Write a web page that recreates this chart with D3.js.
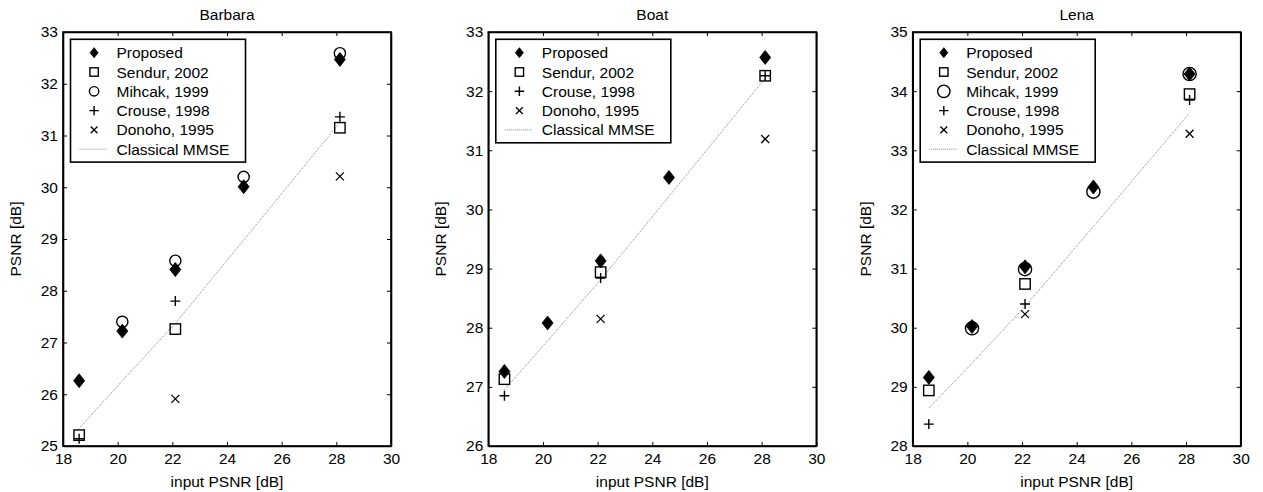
<!DOCTYPE html>
<html>
<head>
<meta charset="utf-8">
<script src="https://cdn.jsdelivr.net/npm/d3@7"></script>
<style>
  html, body { margin: 0; padding: 0; background: #fff; }
  svg { display: block; font-family: "Liberation Sans", Arial, Helvetica, sans-serif; }
</style>
</head>
<body>
<svg id="chart" width="1263" height="492"></svg>
<script>
// ---- data ----
const inputPSNR = [18.59, 20.17, 22.11, 24.61, 28.13];
const xTicks = [18, 20, 22, 24, 26, 28, 30];

const panelTitles = ["Barbara", "Boat", "Lena"];
const yDomains = [[25, 33], [26, 33], [28, 35]];

const seriesNames = ["Proposed", "Sendur, 2002", "Mihcak, 1999", "Crouse, 1998", "Donoho, 1995", "Classical MMSE"];

// Barbara
const barbaraProposed = [26.26, 27.22, 28.41, 30.01, 32.47];
const barbaraSendur   = [25.21, null, 27.26, null, 31.15];
const barbaraMihcak   = [null, 27.40, 28.58, 30.20, 32.59];
const barbaraCrouse   = [25.14, null, 27.80, null, 31.36];
const barbaraDonoho   = [null, null, 25.91, null, 30.21];
const barbaraMMSE     = [25.34, 26.26, 27.37, 28.98, 31.25];

// Boat
const boatProposed = [27.26, 28.08, 29.13, 30.54, 32.57];
const boatSendur   = [27.13, null, 28.94, null, 32.26];
const boatCrouse   = [26.85, null, 28.84, null, 32.26];
const boatDonoho   = [null, null, 28.15, null, 31.19];
const boatMMSE     = [26.95, 27.78, 28.81, 30.22, 32.22];

// Lena
const lenaProposed = [29.16, 30.02, 31.03, 32.38, 34.29];
const lenaSendur   = [28.94, null, 30.74, null, 33.95];
const lenaMihcak   = [null, 29.99, 30.99, 32.30, 34.29];
const lenaCrouse   = [28.37, null, 30.40, null, 33.85];
const lenaDonoho   = [null, null, 30.23, null, 33.28];
const lenaMMSE     = [28.64, 29.40, 30.36, 31.71, 33.63];

// ---- build panel specs ----
const panels = [
  { title: panelTitles[0], yDomain: yDomains[0], circleR: 5.6, legCircleR: 4.7, series: [
    { name: seriesNames[0], type: "diamond", values: barbaraProposed },
    { name: seriesNames[1], type: "square",  values: barbaraSendur },
    { name: seriesNames[2], type: "circle",  values: barbaraMihcak },
    { name: seriesNames[3], type: "plus",    values: barbaraCrouse },
    { name: seriesNames[4], type: "cross",   values: barbaraDonoho },
    { name: seriesNames[5], type: "line",    values: barbaraMMSE } ] },
  { title: panelTitles[1], yDomain: yDomains[1], circleR: 5.6, legCircleR: 4.7, series: [
    { name: seriesNames[0], type: "diamond", values: boatProposed },
    { name: seriesNames[1], type: "square",  values: boatSendur },
    { name: seriesNames[3], type: "plus",    values: boatCrouse },
    { name: seriesNames[4], type: "cross",   values: boatDonoho },
    { name: seriesNames[5], type: "line",    values: boatMMSE } ] },
  { title: panelTitles[2], yDomain: yDomains[2], circleR: 6.6, legCircleR: 6.2, series: [
    { name: seriesNames[0], type: "diamond", values: lenaProposed },
    { name: seriesNames[1], type: "square",  values: lenaSendur },
    { name: seriesNames[2], type: "circle",  values: lenaMihcak },
    { name: seriesNames[3], type: "plus",    values: lenaCrouse },
    { name: seriesNames[4], type: "cross",   values: lenaDonoho },
    { name: seriesNames[5], type: "line",    values: lenaMMSE } ] }
];

// ---- layout ----
const axLefts = [63, 488.3, 912.7];
const axW = 328, axTop = 32, axBottom = 446;
const fontSize = 15.5;

const svg = d3.select("#chart");

function drawMarker(g, type, cx, cy, opts) {
  const s = opts || {};
  if (type === "diamond") {
    const w = s.dw || 5.5, h = s.dh || 7;
    g.append("path").attr("d", `M${cx},${cy - h}L${cx + w},${cy}L${cx},${cy + h}L${cx - w},${cy}Z`)
      .attr("fill", "#000").attr("stroke", "#000").attr("stroke-width", 0.8);
  } else if (type === "square") {
    const a = s.sq || 5.2;
    g.append("rect").attr("x", cx - a).attr("y", cy - a).attr("width", 2 * a).attr("height", 2 * a)
      .attr("fill", "none").attr("stroke", "#000").attr("stroke-width", 1.4);
  } else if (type === "circle") {
    g.append("circle").attr("cx", cx).attr("cy", cy).attr("r", s.r || 5)
      .attr("fill", "none").attr("stroke", "#000").attr("stroke-width", 1.4);
  } else if (type === "plus") {
    const a = s.pl || 5;
    g.append("path").attr("d", `M${cx - a},${cy}H${cx + a}M${cx},${cy - a}V${cy + a}`)
      .attr("fill", "none").attr("stroke", "#000").attr("stroke-width", 1.4);
  } else if (type === "cross") {
    const a = s.cr || 4;
    g.append("path").attr("d", `M${cx - a},${cy - a}L${cx + a},${cy + a}M${cx - a},${cy + a}L${cx + a},${cy - a}`)
      .attr("fill", "none").attr("stroke", "#000").attr("stroke-width", 1.3);
  }
}

panels.forEach((p, i) => {
  const left = axLefts[i];
  const x = d3.scaleLinear().domain([18, 30]).range([left, left + axW]);
  const y = d3.scaleLinear().domain(p.yDomain).range([axBottom, axTop]);
  const yTicks = d3.range(p.yDomain[0], p.yDomain[1] + 1, 1);
  const g = svg.append("g");

  g.append("rect").attr("x", left).attr("y", axTop).attr("width", axW).attr("height", axBottom - axTop).attr("fill", "#fff");

  // MMSE line
  const lineSeries = p.series.find(s => s.type === "line");
  const lineGen = d3.line().defined(d => d[1] != null).x(d => x(d[0])).y(d => y(d[1]));
  g.append("path").datum(inputPSNR.map((xv, k) => [xv, lineSeries.values[k]]))
    .attr("d", lineGen).attr("fill", "none").attr("stroke", "#8a8a8a")
    .attr("stroke-width", 1).attr("stroke-dasharray", "1,1");

  // markers
  const order = p.series.filter(s => s.type !== "line" && s.type !== "diamond")
    .concat(p.series.filter(s => s.type === "diamond"));
  order.forEach(s => {
    inputPSNR.forEach((xv, k) => {
      const v = s.values[k];
      if (v == null) return;
      drawMarker(g, s.type, x(xv), y(v), { r: p.circleR });
    });
  });

  // axes
  const fmt = d3.format("d");
  const axB = g.append("g").attr("transform", `translate(0,${axBottom})`)
    .call(d3.axisBottom(x).tickValues(xTicks).tickFormat(fmt).tickSizeInner(-4).tickSizeOuter(0).tickPadding(4));
  const axT = g.append("g").attr("transform", `translate(0,${axTop})`)
    .call(d3.axisTop(x).tickValues(xTicks).tickFormat("").tickSizeInner(-4).tickSizeOuter(0));
  const axL = g.append("g").attr("transform", `translate(${left},0)`)
    .call(d3.axisLeft(y).tickValues(yTicks).tickFormat(fmt).tickSizeInner(-4).tickSizeOuter(0).tickPadding(5));
  const axR = g.append("g").attr("transform", `translate(${left + axW},0)`)
    .call(d3.axisRight(y).tickValues(yTicks).tickFormat("").tickSizeInner(-4).tickSizeOuter(0));
  [axB, axT, axL, axR].forEach(a => {
    a.select(".domain").attr("stroke", "#000").attr("stroke-width", 1.6);
    a.selectAll(".tick line").attr("stroke", "#000").attr("stroke-width", 1);
    a.selectAll("text").attr("font-size", fontSize).attr("fill", "#000")
      .attr("font-family", '"Liberation Sans", Arial, sans-serif');
  });
  axB.selectAll("text").attr("dy", "0.9em");

  g.append("rect").attr("x", left).attr("y", axTop).attr("width", axW).attr("height", axBottom - axTop)
    .attr("fill", "none").attr("stroke", "#000").attr("stroke-width", 1.6);

  // title
  g.append("text").attr("x", left + axW / 2).attr("y", 20).attr("text-anchor", "middle")
    .attr("font-size", fontSize).text(p.title);
  // x label
  g.append("text").attr("x", left + axW / 2).attr("y", 487).attr("text-anchor", "middle")
    .attr("font-size", fontSize).text("input PSNR [dB]");
  // y label
  g.append("text").attr("transform", `translate(${left - 42},${(axTop + axBottom) / 2}) rotate(-90)`)
    .attr("text-anchor", "middle").attr("font-size", fontSize).text("PSNR [dB]");

  // legend
  const legX = left + 7.5, legY = 39.3, legW = 175, rowH = 19.3;
  const n = p.series.length;
  const leg = g.append("g");
  leg.append("rect").attr("x", legX).attr("y", legY).attr("width", legW).attr("height", n * rowH + 7)
    .attr("fill", "#fff").attr("stroke", "#000").attr("stroke-width", 1.6);
  p.series.forEach((s, k) => {
    const cy = legY + 13.4 + k * rowH;
    if (s.type === "line") {
      leg.append("line").attr("x1", legX + 9).attr("x2", legX + 36).attr("y1", cy).attr("y2", cy)
        .attr("stroke", "#8a8a8a").attr("stroke-width", 1).attr("stroke-dasharray", "1,1");
    } else {
      drawMarker(leg, s.type, legX + 23.6, cy, { dw: 4, dh: 5, sq: 4.2, r: p.legCircleR, pl: 4.7, cr: 3.4 });
    }
    leg.append("text").attr("x", legX + 46).attr("y", cy).attr("dy", "0.36em")
      .attr("font-size", fontSize).text(s.name);
  });
});
</script>
</body>
</html>
